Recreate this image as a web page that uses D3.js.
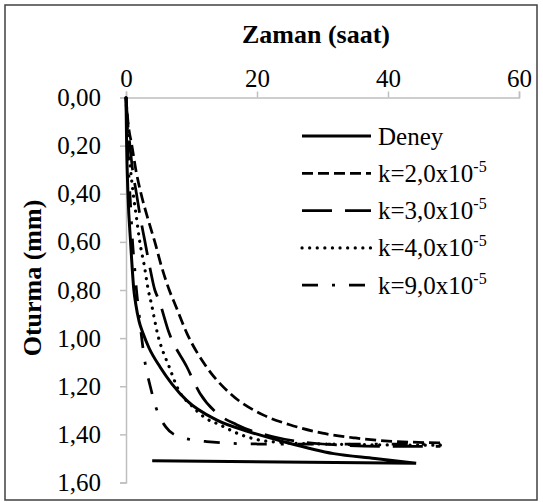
<!DOCTYPE html>
<html>
<head>
<meta charset="utf-8">
<script src="https://cdn.jsdelivr.net/npm/d3@7"></script>
<style>
  body { margin: 0; background: #fff; }
  svg { display: block; }
  svg text { font-family: "Liberation Serif", "Times New Roman", Tinos, "DejaVu Serif", serif !important; fill: #000; }
  .tick text { font-size: 25px; }
</style>
</head>
<body>
<svg id="chart"></svg>
<script>
// data (time in hours, settlement in mm)
const seriesNames = ["Deney", "k=2,0x10", "k=3,0x10", "k=4,0x10", "k=9,0x10"];

const deneyT = [0, 0.1, 0.3, 0.7, 1.2, 1.5, 2.0, 2.6, 3.5, 5.2, 7.0, 9.3, 13.8, 18.9, 24, 31.7, 38, 44.3, 4.0];
const deneyS = [0, 0.2, 0.4, 0.6, 0.8, 0.86, 0.93, 0.98, 1.04, 1.12, 1.19, 1.26, 1.34, 1.39, 1.43, 1.48, 1.50, 1.52, 1.51];

const k2T = [0, 0.3, 0.9, 1.5, 2.3, 3.3, 4.4, 5.4, 6.6, 7.5, 9.3, 12.3, 15.9, 21, 25, 30, 35, 40, 48];
const k2S = [0, 0.1, 0.2, 0.3, 0.4, 0.5, 0.6, 0.7, 0.8, 0.86, 0.98, 1.12, 1.23, 1.32, 1.36, 1.395, 1.415, 1.428, 1.435];

const k3T = [0, 0.25, 0.6, 1.0, 1.6, 2.2, 2.9, 3.6, 4.4, 5.0, 6.6, 9.3, 11.3, 13.8, 16.9, 22.5, 30, 40, 48];
const k3S = [0, 0.1, 0.2, 0.3, 0.4, 0.5, 0.6, 0.7, 0.8, 0.84, 0.98, 1.12, 1.23, 1.31, 1.36, 1.41, 1.44, 1.45, 1.45];

const k4T = [0, 0.15, 0.4, 0.7, 1.1, 1.6, 2.1, 2.8, 3.4, 3.9, 4.8, 6.6, 8.1, 10, 12, 14.3, 17.4, 22, 30, 48];
const k4S = [0, 0.1, 0.2, 0.3, 0.4, 0.5, 0.6, 0.7, 0.8, 0.86, 0.98, 1.12, 1.22, 1.28, 1.33, 1.36, 1.40, 1.43, 1.44, 1.445];

const k9T = [0, 0.1, 0.25, 0.4, 0.6, 0.8, 1.0, 1.3, 1.6, 2.0, 2.4, 2.9, 3.7, 4.6, 6.1, 8.2, 12.3, 20, 48];
const k9S = [0, 0.1, 0.2, 0.3, 0.4, 0.5, 0.6, 0.7, 0.8, 0.9, 1.0, 1.1, 1.2, 1.29, 1.37, 1.41, 1.43, 1.44, 1.44];

const xTicks = [0, 20, 40, 60];
const yTicks = [0, 0.2, 0.4, 0.6, 0.8, 1.0, 1.2, 1.4, 1.6];

const width = 543;
const height = 502;

const svg = d3.select("#chart")
    .attr("width", width)
    .attr("height", height);

// outer frame
svg.append("rect")
    .attr("x", 5).attr("y", 5)
    .attr("width", 532).attr("height", 495)
    .attr("fill", "none")
    .attr("stroke", "#404040")
    .attr("stroke-width", 1.5);

const x = d3.scaleLinear().domain([0, 60]).range([126, 519]);
const y = d3.scaleLinear().domain([0, 1.6]).range([97.5, 482.5]);

const comma = d => d3.format(".2f")(d).replace(".", ",");

// axes
const xAxis = svg.append("g")
    .attr("transform", `translate(0,${y(0)})`)
    .call(d3.axisTop(x).tickValues(xTicks).tickSize(6).tickPadding(5).tickFormat(d3.format("d")));

const yAxis = svg.append("g")
    .attr("transform", `translate(${x(0)},0)`)
    .call(d3.axisLeft(y).tickValues(yTicks).tickSize(6).tickPadding(19).tickFormat(comma));

[xAxis, yAxis].forEach(a => {
    a.attr("font-family", null).attr("font-size", null);
    a.select(".domain").attr("stroke", "#bfbfbf").attr("stroke-width", 1.5);
    a.selectAll(".tick line").attr("stroke", "#bfbfbf").attr("stroke-width", 1.5);
});

// axis titles
svg.append("text")
    .attr("x", 316).attr("y", 43)
    .attr("text-anchor", "middle")
    .style("font-size", "26px")
    .style("font-weight", "bold")
    .text("Zaman (saat)");

svg.append("text")
    .attr("transform", "translate(41,278) rotate(-90)")
    .attr("text-anchor", "middle")
    .style("font-size", "26px")
    .style("font-weight", "bold")
    .text("Oturma (mm)");

// line styles per series
const styles = [
    {dash: null, width: 3, cap: "butt"},
    {dash: "11,5", width: 2.75, cap: "butt"},
    {dash: "30,13", width: 2.75, cap: "butt"},
    {dash: "0.1,7.5", width: 3.2, cap: "round"},
    {dash: "16,14,3,14", width: 2.75, cap: "butt"}
];

const toPoints = (ts, ss) => ts.map((t, i) => [t, ss[i]]);

const curve = d3.line()
    .x(d => x(d[0]))
    .y(d => y(d[1]))
    .curve(d3.curveMonotoneX);

const straight = d3.line()
    .x(d => x(d[0]))
    .y(d => y(d[1]));

const deney = toPoints(deneyT, deneyS);
const sims = [toPoints(k2T, k2S), toPoints(k3T, k3S), toPoints(k4T, k4S), toPoints(k9T, k9S)];

const g = svg.append("g");

// simulated curves
sims.forEach((pts, i) => {
    const st = styles[i + 1];
    g.append("path")
        .attr("d", curve(pts))
        .attr("fill", "none")
        .attr("stroke", "#000")
        .attr("stroke-width", st.width)
        .attr("stroke-linecap", st.cap)
        .attr("stroke-dasharray", st.dash);
});

// measured: curve, then the last point jumps back to the left
g.append("path")
    .attr("d", curve(deney.slice(0, -1)) + straight(deney.slice(-2)))
    .attr("fill", "none")
    .attr("stroke", "#000")
    .attr("stroke-width", styles[0].width);

// legend
const legend = svg.append("g").attr("transform", "translate(302,136)");
const rowH = 37.3;

seriesNames.forEach((name, i) => {
    const st = styles[i];
    const row = legend.append("g").attr("transform", `translate(0,${i * rowH})`);
    row.append("line")
        .attr("x1", 0).attr("x2", 69)
        .attr("y1", 0).attr("y2", 0)
        .attr("stroke", "#000")
        .attr("stroke-width", st.width)
        .attr("stroke-linecap", st.cap)
        .attr("stroke-dasharray", st.dash);
    const txt = row.append("text")
        .attr("x", 76).attr("y", 8.5)
        .style("font-size", "25px")
        .text(name);
    if (i > 0) {
        txt.append("tspan")
            .attr("dy", -10)
            .style("font-size", "16px")
            .text("-5");
    }
});
</script>
</body>
</html>
